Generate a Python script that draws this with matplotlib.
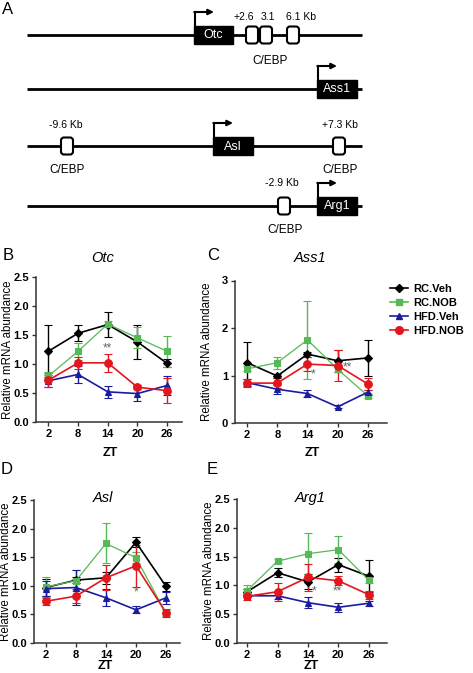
import matplotlib
matplotlib.use("Agg")
import matplotlib.pyplot as plt
from matplotlib.patches import Rectangle, FancyBboxPatch
from matplotlib.lines import Line2D

plt.rcParams['font.family'] = ['Liberation Sans', 'DejaVu Sans']

W, H = 473, 673

# ---------------- data ----------------
zt = [2, 8, 14, 20, 26]
series_names = ['RC.Veh', 'RC.NOB', 'HFD.Veh', 'HFD.NOB']

otc_rc_veh = [1.22, 1.53, 1.68, 1.38, 1.01]
otc_rc_veh_err = [0.45, 0.14, 0.22, 0.29, 0.07]
otc_rc_nob = [0.79, 1.22, 1.69, 1.45, 1.22]
otc_rc_nob_err = [0.07, 0.15, 0.05, 0.18, 0.27]
otc_hfd_veh = [0.71, 0.82, 0.52, 0.49, 0.63]
otc_hfd_veh_err = [0.10, 0.15, 0.10, 0.13, 0.17]
otc_hfd_nob = [0.72, 1.02, 1.02, 0.60, 0.54]
otc_hfd_nob_err = [0.12, 0.10, 0.15, 0.03, 0.22]

ass1_rc_veh = [1.27, 0.99, 1.45, 1.31, 1.37]
ass1_rc_veh_err = [0.44, 0.05, 0.05, 0.23, 0.38]
ass1_rc_nob = [1.14, 1.27, 1.75, 1.13, 0.57]
ass1_rc_nob_err = [0.05, 0.13, 0.82, 0.05, 0.04]
ass1_hfd_veh = [0.85, 0.71, 0.62, 0.34, 0.65]
ass1_hfd_veh_err = [0.08, 0.10, 0.08, 0.03, 0.05]
ass1_hfd_nob = [0.84, 0.84, 1.24, 1.21, 0.82]
ass1_hfd_nob_err = [0.08, 0.10, 0.15, 0.33, 0.12]

asl_rc_veh = [0.97, 1.10, 1.14, 1.76, 0.99]
asl_rc_veh_err = [0.15, 0.05, 0.10, 0.09, 0.08]
asl_rc_nob = [0.98, 1.09, 1.74, 1.49, 0.52]
asl_rc_nob_err = [0.17, 0.18, 0.35, 0.10, 0.05]
asl_hfd_veh = [0.95, 0.97, 0.79, 0.58, 0.79]
asl_hfd_veh_err = [0.13, 0.30, 0.15, 0.06, 0.10]
asl_hfd_nob = [0.73, 0.82, 1.14, 1.35, 0.53]
asl_hfd_nob_err = [0.06, 0.12, 0.22, 0.37, 0.07]

arg1_rc_veh = [0.89, 1.22, 1.06, 1.36, 1.16]
arg1_rc_veh_err = [0.05, 0.08, 0.13, 0.12, 0.28]
arg1_rc_nob = [0.91, 1.42, 1.55, 1.62, 1.09]
arg1_rc_nob_err = [0.10, 0.03, 0.36, 0.23, 0.05]
arg1_hfd_veh = [0.82, 0.82, 0.70, 0.62, 0.69]
arg1_hfd_veh_err = [0.03, 0.05, 0.10, 0.08, 0.04]
arg1_hfd_nob = [0.81, 0.89, 1.14, 1.08, 0.84]
arg1_hfd_nob_err = [0.07, 0.16, 0.24, 0.08, 0.07]

# significance marks: (ZT position, y value, text)
otc_stars = [(14, 1.26, '**')]
ass1_stars = [(15.2, 1.03, '*'), (21.9, 1.18, '**')]
asl_stars = [(20, 0.89, '*')]
arg1_stars = [(15.2, 0.89, '*'), (19.8, 0.90, '**')]

# gene diagram (panel A)
genes = ['Otc', 'Ass1', 'Asl', 'Arg1']
cebp_sites = [[252, 266, 293], [], [67, 339], [284]]

# ---------------- styling ----------------
colors = ['#000000', '#55b955', '#1b1b9e', '#e3151d']
markers = ['D', 's', '^', 'o']
msizes = [4.0, 5.0, 5.0, 5.5]
lws = [1.2, 0.9, 1.2, 1.2]

fig = plt.figure(figsize=(W / 100, H / 100), dpi=100)


def fx(x):
    return x / W


def fy(y):
    return 1 - y / H


# ---------------- Panel A: schematic ----------------
ax0 = fig.add_axes([0, 0, 1, 1])
ax0.set_xlim(0, W)
ax0.set_ylim(H, 0)
ax0.axis('off')

line_y = [35, 89, 146, 206]
box_x = [(194, 233), (317, 357), (213, 253), (317, 357)]
for g, ly, (bx0, bx1), sites in zip(genes, line_y, box_x, cebp_sites):
    ax0.plot([27, 362], [ly, ly], color='black', lw=2.0, solid_capstyle='butt', zorder=1)
    ax0.add_patch(Rectangle((bx0, ly - 9), bx1 - bx0, 18, facecolor='black',
                            edgecolor='black', zorder=2))
    ax0.text((bx0 + bx1) / 2, ly + 0.5, g, color='white', fontsize=9,
             ha='center', va='center', zorder=3)
    # TSS arrow
    ax0.plot([bx0 + 1, bx0 + 1], [ly - 9, ly - 23], color='black', lw=1.5, zorder=2)
    ax0.annotate('', xy=(bx0 + 20, ly - 23), xytext=(bx0 + 0.3, ly - 23),
                 arrowprops=dict(arrowstyle='-|>', lw=1.5, color='black',
                                 mutation_scale=8, shrinkA=0, shrinkB=0))
    for sx in sites:
        ax0.add_patch(FancyBboxPatch((sx - 4.5, ly - 7), 9, 14,
                                     boxstyle='round,pad=1.5,rounding_size=3',
                                     facecolor='white', edgecolor='black', lw=1.5,
                                     zorder=3))

ax0.text(8, 9, 'A', fontsize=12, ha='center', va='center')
ax0.text(244, 17, '+2.6', fontsize=7.5, ha='center', va='center')
ax0.text(268, 17, '3.1', fontsize=7.5, ha='center', va='center')
ax0.text(301, 17, '6.1 Kb', fontsize=7.5, ha='center', va='center')
ax0.text(270, 61, 'C/EBP', fontsize=8.5, ha='center', va='center')
ax0.text(66, 125, '-9.6 Kb', fontsize=7.5, ha='center', va='center')
ax0.text(340, 125, '+7.3 Kb', fontsize=7.5, ha='center', va='center')
ax0.text(67, 170, 'C/EBP', fontsize=8.5, ha='center', va='center')
ax0.text(340, 170, 'C/EBP', fontsize=8.5, ha='center', va='center')
ax0.text(282, 183, '-2.9 Kb', fontsize=7.5, ha='center', va='center')
ax0.text(285, 230, 'C/EBP', fontsize=8.5, ha='center', va='center')

# ---------------- Panels B-E ----------------
panels = [
    dict(letter='B', title='Otc', box=(36, 182, 277, 422), xlim=(-0.5, 29.0), ylim=(0, 2.5),
         yticks=[0, 0.5, 1.0, 1.5, 2.0, 2.5], yfmt='{:.1f}', zt_xy=(110, 453),
         letter_xy=(8, 256), title_xy=(103, 258),
         data=[(otc_rc_veh, otc_rc_veh_err), (otc_rc_nob, otc_rc_nob_err),
               (otc_hfd_veh, otc_hfd_veh_err), (otc_hfd_nob, otc_hfd_nob_err)],
         stars=otc_stars),
    dict(letter='C', title='Ass1', box=(235, 387, 280.5, 423), xlim=(-0.4, 29.8), ylim=(0, 3),
         yticks=[0, 1, 2, 3], yfmt='{:.0f}', zt_xy=(312, 453),
         letter_xy=(213, 256), title_xy=(310, 258),
         data=[(ass1_rc_veh, ass1_rc_veh_err), (ass1_rc_nob, ass1_rc_nob_err),
               (ass1_hfd_veh, ass1_hfd_veh_err), (ass1_hfd_nob, ass1_hfd_nob_err)],
         stars=ass1_stars),
    dict(letter='D', title='Asl', box=(34, 180, 500, 643), xlim=(-0.4, 28.8), ylim=(0, 2.5),
         yticks=[0, 0.5, 1.0, 1.5, 2.0, 2.5], yfmt='{:.1f}', zt_xy=(105, 666),
         letter_xy=(7, 470), title_xy=(103, 498),
         data=[(asl_rc_veh, asl_rc_veh_err), (asl_rc_nob, asl_rc_nob_err),
               (asl_hfd_veh, asl_hfd_veh_err), (asl_hfd_nob, asl_hfd_nob_err)],
         stars=asl_stars),
    dict(letter='E', title='Arg1', box=(237, 387, 499, 643), xlim=(0.0, 29.6), ylim=(0, 2.5),
         yticks=[0, 0.5, 1.0, 1.5, 2.0, 2.5], yfmt='{:.1f}', zt_xy=(311, 666),
         letter_xy=(212, 470), title_xy=(310, 498),
         data=[(arg1_rc_veh, arg1_rc_veh_err), (arg1_rc_nob, arg1_rc_nob_err),
               (arg1_hfd_veh, arg1_hfd_veh_err), (arg1_hfd_nob, arg1_hfd_nob_err)],
         stars=arg1_stars),
]

for p in panels:
    l, r, t, b = p['box']
    ax = fig.add_axes([fx(l), fy(b), (r - l) / W, (b - t) / H])
    ax.patch.set_alpha(0)
    for (vals, errs), c, m, ms, lw in zip(p['data'], colors, markers, msizes, lws):
        ax.errorbar(zt, vals, yerr=errs, color=c, marker=m, markersize=ms, lw=lw,
                    elinewidth=1.0, capsize=3, capthick=1.0, markeredgewidth=0.8,
                    clip_on=False)
    for sx, sy, s in p['stars']:
        ax.text(sx, sy, s, color='#666666', fontsize=8.5, ha='center', va='center')
    ax.set_xlim(*p['xlim'])
    ax.set_ylim(*p['ylim'])
    ax.set_xticks(zt)
    ax.set_xticklabels([str(z) for z in zt], fontsize=8, fontweight='bold')
    ax.set_yticks(p['yticks'])
    ax.set_yticklabels([p['yfmt'].format(v) for v in p['yticks']], fontsize=8,
                       fontweight='bold')
    for s in ['top', 'right']:
        ax.spines[s].set_visible(False)
    for s in ['left', 'bottom']:
        ax.spines[s].set_linewidth(1.1)
        ax.spines[s].set_color('#333333')
    ax.tick_params(direction='out', length=3, width=1.0, pad=2, colors='#333333',
                   labelcolor='black')
    fig.text(fx(p['zt_xy'][0]), fy(p['zt_xy'][1]), 'ZT', fontsize=9, fontweight='bold',
             ha='center', va='center')
    fig.text(fx(l - 28), fy((t + b) / 2), 'Relative mRNA abundance', fontsize=8.3,
             rotation=90, ha='center', va='center')
    fig.text(fx(p['letter_xy'][0]), fy(p['letter_xy'][1]), p['letter'], fontsize=12,
             ha='center', va='center')
    fig.text(fx(p['title_xy'][0]), fy(p['title_xy'][1]), p['title'], fontsize=10.5,
             style='italic', ha='center', va='center')

# legend
handles = [Line2D([], [], color=c, marker=m, markersize=ms, lw=1.2)
           for c, m, ms in zip(colors, markers, msizes)]
fig.legend(handles, series_names, loc='center left', bbox_to_anchor=(fx(390), fy(310)),
           frameon=False, prop=dict(size=8, weight='bold'), handlelength=1.6,
           handletextpad=0.5, labelspacing=0.38, borderaxespad=0, borderpad=0)

fig.savefig('out.png', dpi=100)
